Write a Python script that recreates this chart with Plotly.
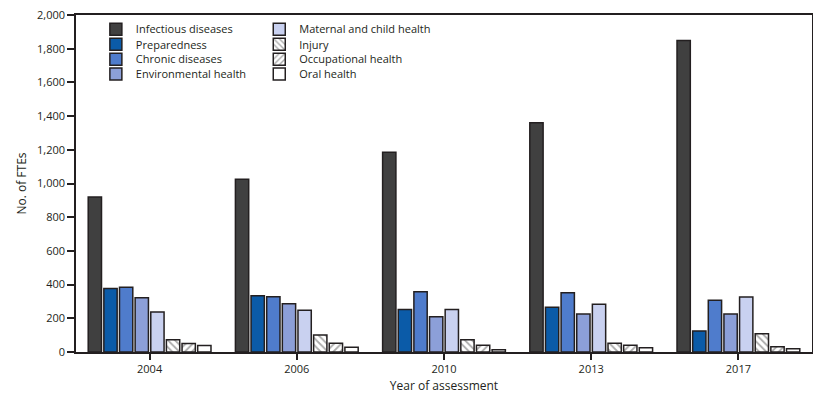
"""
Public health FTEs by program area and year of assessment.
Grouped bar chart, one trace per program area.
"""
import plotly.graph_objects as go

# --- DATA ---
YEARS = ["2004", "2006", "2010", "2013", "2017"]

INFECTIOUS = [920, 1025, 1185, 1360, 1848]
PREPAREDNESS = [377, 334, 252, 266, 125]
CHRONIC = [385, 328, 358, 352, 307]
ENVIRONMENTAL = [322, 287, 209, 225, 225]
MATERNAL = [238, 248, 252, 284, 326]
INJURY = [73, 101, 72, 52, 109]
OCCUPATIONAL = [51, 52, 40, 40, 31]
ORAL = [39, 28, 13, 25, 19]

SERIES_NAMES = [
    "Infectious diseases", "Preparedness", "Chronic diseases", "Environmental health",
    "Maternal and child health", "Injury", "Occupational health", "Oral health",
]
SERIES_VALUES = [INFECTIOUS, PREPAREDNESS, CHRONIC, ENVIRONMENTAL,
                 MATERNAL, INJURY, OCCUPATIONAL, ORAL]

# --- STYLE ---
FILLS = ["#404040", "#0b5ba8", "#4f7ccc", "#8c9fd8", "#c9d1f0", "white", "white", "white"]
PATTERNS = ["", "", "", "", "", "\\", "/", ""]
OUTLINE = "#231f20"
TEXT = "#231f20"
FONT = "Open Sans"

# one small legend per entry so the two columns can be placed freely
LEGEND_IDS = ["legend"] + [f"legend{k}" for k in range(2, 9)]
COL_X = [0.027, 0.249]
ROW_Y = [1.001, 0.956, 0.912, 0.868]

fig = go.Figure()

for i, (name, vals) in enumerate(zip(SERIES_NAMES, SERIES_VALUES)):
    pattern = dict(shape=PATTERNS[i], fgcolor="#555555", bgcolor="white",
                   size=5, solidity=0.35) if PATTERNS[i] else None
    fig.add_trace(go.Bar(
        x=YEARS,
        y=vals,
        name=name,
        marker=dict(color=FILLS[i], line=dict(color=OUTLINE, width=1.5),
                    pattern=pattern),
        legend=LEGEND_IDS[i],
    ))

legends = {}
for i, lid in enumerate(LEGEND_IDS):
    legends[lid] = dict(x=COL_X[i // 4], y=ROW_Y[i % 4],
                        xanchor="left", yanchor="top",
                        bgcolor="rgba(0,0,0,0)", font=dict(size=11),
                        itemwidth=30)

# the page body adds an 8px margin, so the figure is kept 16px smaller than the window
fig.update_layout(
    width=805,
    height=386,
    showlegend=True,
    barmode="group",
    bargap=0.15,
    bargroupgap=0.15,
    plot_bgcolor="white",
    paper_bgcolor="white",
    margin=dict(l=68, r=1, t=7, b=42),
    font=dict(family=FONT, size=11, color=TEXT),
    **legends,
)

fig.update_yaxes(
    range=[0, 2000],
    dtick=200,
    tickformat=",",
    showgrid=False,
    zeroline=False,
    showline=True,
    linecolor=OUTLINE,
    linewidth=1.5,
    mirror=True,
    ticks="outside",
    ticklen=7,
    tickcolor=OUTLINE,
    tickwidth=1.5,
    automargin=False,
    ticklabeloverflow="allow",
    title=dict(text="No. of FTEs", font=dict(size=12), standoff=8),
)

fig.update_xaxes(
    showgrid=False,
    showline=True,
    linecolor=OUTLINE,
    linewidth=1.5,
    mirror=True,
    ticks="outside",
    ticklen=6,
    tickcolor=OUTLINE,
    tickwidth=1.5,
    automargin=False,
    title=dict(text="Year of assessment", font=dict(size=12), standoff=11),
)

fig.write_html("out.html")
